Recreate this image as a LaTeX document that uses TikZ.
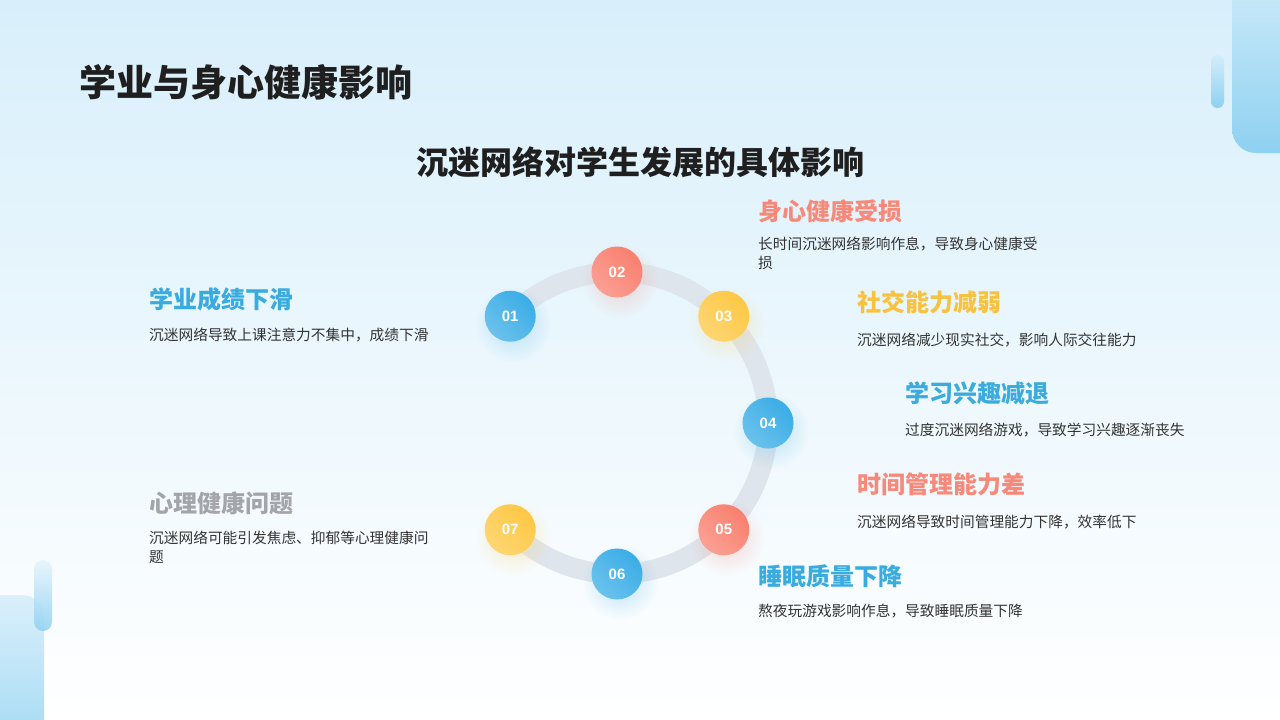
\documentclass[tikz,border=0pt]{standalone}
\usepackage{fontspec}
\setmainfont{Noto Sans CJK SC}
\newfontfamily\numfont{Liberation Sans}
\usetikzlibrary{fadings,calc}
\tikzfading[name=softglow,inner color=transparent!0,outer color=transparent!100]
\definecolor{bgtop}{HTML}{D8EFFB}
\definecolor{ringgray}{HTML}{DFE5EC}
\definecolor{ballblue}{HTML}{3AADE6}
\definecolor{ballred}{HTML}{F9806F}
\definecolor{ballyellow}{HTML}{FDC844}
\definecolor{headblue}{HTML}{3AABDF}
\definecolor{headred}{HTML}{F7897A}
\definecolor{headyellow}{HTML}{F8C23E}
\definecolor{headgray}{HTML}{A3A5A8}
\definecolor{txtdark}{HTML}{333333}
\definecolor{decolight}{HTML}{D3EDFA}
\definecolor{decodark}{HTML}{8ED1F1}
\tikzset{
  heading/.style={anchor=west,inner sep=0pt,font=\fontsize{24}{28}\selectfont\bfseries},
  desc/.style={anchor=north west,inner sep=0pt,align=left,text=txtdark,font=\fontsize{14.7}{19}\selectfont},
  ball/.style={circle,minimum size=51pt,inner sep=0pt,text=white,font=\numfont\fontsize{15}{17}\selectfont\bfseries}
}
\begin{document}
\begin{tikzpicture}[x=1pt,y=-1pt]
  \useasboundingbox (0,0) rectangle (1280,720);
  % background
  \shade[top color=bgtop,bottom color=white] (0,0) rectangle (1280,720);
  % decorations
  \shade[top color=decolight,bottom color=decodark,rounded corners=24pt] (1232,-40) rectangle (1310,153);
  \shade[top color=decolight,bottom color=decodark,rounded corners=6.5pt] (1211,55) rectangle (1224,108);
  \shade[top color=decolight!85!white,bottom color=decodark!85!white,rounded corners=22pt] (-20,595) rectangle (44,760);
  \shade[top color=decolight!60!white,bottom color=decodark,opacity=0.85,rounded corners=9pt] (34,560) rectangle (52,631);
  % titles
  \node[anchor=west,inner sep=0pt,text=black!88,font=\fontsize{37}{42}\selectfont\bfseries] (title) at (79,82) {学业与身心健康影响};
  \node[inner sep=0pt,text=black!88,font=\fontsize{32}{36}\selectfont\bfseries] (subtitle) at (640,162) {沉迷网络对学生发展的具体影响};
  % ring
  \coordinate (ctr) at (617,423);
  \draw[ringgray,line width=20pt] (ctr) ++(-135:151) arc[start angle=-135,end angle=135,radius=151];
  % balls
  \foreach \n/\a/\col in {1/-135/ballblue,2/-90/ballred,3/-45/ballyellow,4/0/ballblue,5/45/ballred,6/90/ballblue,7/135/ballyellow}{
    \fill[\col,opacity=0.3,path fading=softglow] ($(ctr)+(\a:151)+(3,8)$) circle (38pt);
    \node[ball,left color=\col!75!white,right color=\col,shading angle=135] (c\n) at ($(ctr)+(\a:151)$) {0\n};
  }
  % items
  \node[heading,text=headblue] (h1) at (149,299) {学业成绩下滑};
  \node[desc] (d1) at (149,328) {沉迷网络导致上课注意力不集中，成绩下滑};
  \node[heading,text=headred] (h2) at (758,211) {身心健康受损};
  \node[desc] (d2) at (758,237) {长时间沉迷网络影响作息，导致身心健康受\\损};
  \node[heading,text=headyellow] (h3) at (857,302) {社交能力减弱};
  \node[desc] (d3) at (857,333) {沉迷网络减少现实社交，影响人际交往能力};
  \node[heading,text=headblue] (h4) at (905,393) {学习兴趣减退};
  \node[desc] (d4) at (905,423) {过度沉迷网络游戏，导致学习兴趣逐渐丧失};
  \node[heading,text=headred] (h5) at (857,484) {时间管理能力差};
  \node[desc] (d5) at (857,515) {沉迷网络导致时间管理能力下降，效率低下};
  \node[heading,text=headblue] (h6) at (758,576) {睡眠质量下降};
  \node[desc] (d6) at (758,604) {熬夜玩游戏影响作息，导致睡眠质量下降};
  \node[heading,text=headgray] (h7) at (149,503) {心理健康问题};
  \node[desc] (d7) at (149,531) {沉迷网络可能引发焦虑、抑郁等心理健康问\\题};
\end{tikzpicture}
\end{document}
